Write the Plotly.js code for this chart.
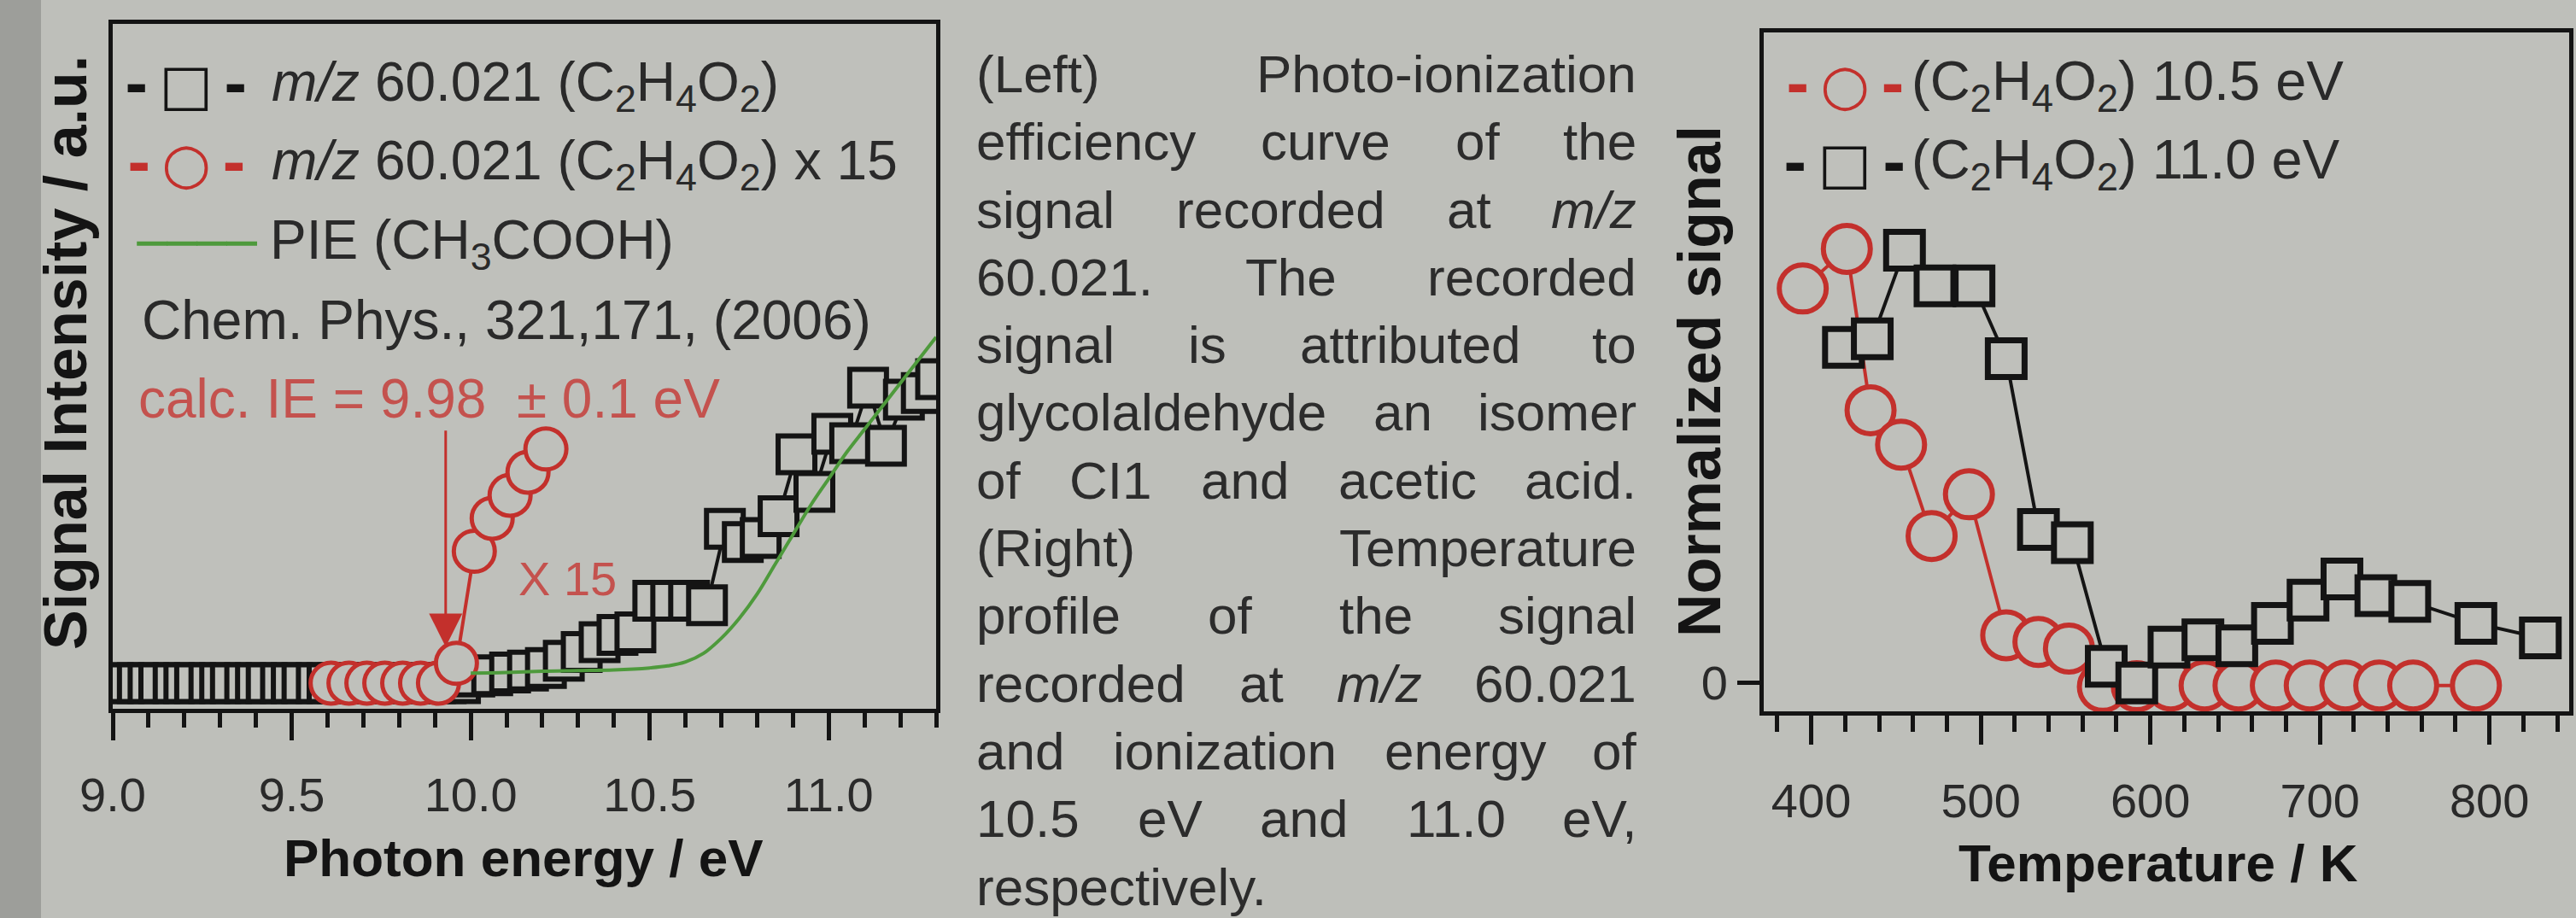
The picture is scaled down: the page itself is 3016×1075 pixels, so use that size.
<!DOCTYPE html>
<html>
<head>
<meta charset="utf-8">
<script src="https://cdn.plot.ly/plotly-3.0.1.min.js"></script>
<style>
html,body{margin:0;padding:0;background:#bebfba;}
#chart{width:3016px;height:1075px;}
</style>
</head>
<body>
<div id="chart"></div>
<script>
// ---------------- Left panel: photo-ionization efficiency of m/z 60.021 ----------------
const squareEnergy = [9.00,9.03,9.07,9.10,9.13,9.17,9.20,9.23,9.27,9.30,
  9.33,9.37,9.40,9.43,9.47,9.50,9.53,9.57,9.60,9.63,
  9.67,9.70,9.73,9.77,9.80,9.83,9.87,9.90,9.93,9.97,
  10.01,10.06,10.11,10.16,10.21,10.26,10.31,10.36,10.41,10.46,
  10.51,10.56,10.61,10.66,10.71,10.76,10.81,10.86,10.91,10.96,
  11.01,11.06,11.11,11.16,11.21,11.26,11.30];
const squareSignal = [0,0,0,0,0,0,0,0,0,0,
  0,0,0,0,0,0,0,0,0,0,
  0,0,0,0,0,0,0,0,0,0,
  0.010,0.012,0.016,0.019,0.023,0.034,0.047,0.062,0.073,0.077,
  0.125,0.125,0.125,0.118,0.234,0.214,0.220,0.253,0.347,0.290,
  0.378,0.364,0.448,0.360,0.430,0.440,0.461];
const circleEnergy = [9.61,9.66,9.71,9.76,9.81,9.86,9.91,9.96,10.01,10.06,10.11,10.16,10.21];
const circleSignal = [0,0,0,0,0,0,0,0.030,0.200,0.250,0.285,0.320,0.355];
const acidEnergy = [10.00,10.10,10.20,10.30,10.40,10.50,10.55,10.60,10.65,10.70,10.75,10.80,10.85,10.90,10.95,11.00,11.05,11.10,11.15,11.20,11.25,11.30];
const acidSignal = [0.015,0.016,0.018,0.019,0.020,0.023,0.026,0.032,0.045,0.068,0.098,0.135,0.180,0.225,0.270,0.310,0.350,0.385,0.420,0.455,0.490,0.525];
const energyTickVals = [9.0,9.5,10.0,10.5,11.0];
const energyTickText = ['9.0','9.5','10.0','10.5','11.0'];
const arrowEnergy = 9.93;

// ---------------- Right panel: temperature profile ----------------
const temp105 = [395,421,435,453,471,493,515,534,552,572,592,612,632,652,674,694,715,735,755,792];
const signal105 = [0.596,0.656,0.412,0.360,0.222,0.285,0.072,0.062,0.052,-0.006,-0.005,-0.004,-0.004,-0.004,-0.004,-0.004,-0.004,-0.004,-0.004,-0.004];
const temp110 = [419,436,455,473,496,515,534,554,574,592,611,631,651,672,693,713,733,753,792,830];
const signal110 = [0.507,0.520,0.654,0.600,0.600,0.490,0.232,0.212,0.025,0.000,0.054,0.065,0.056,0.090,0.125,0.157,0.132,0.123,0.090,0.068];
const tempTickVals = [400,500,600,700,800];
const tempTickText = ['400','500','600','700','800'];
const signalTickVals = [0];
const signalTickText = ['0'];

// ---------------- Caption text ----------------
const captionLines = [
  ['(Left)','Photo-ionization'],
  ['efficiency','curve','of','the'],
  ['signal','recorded','at','<i>m/z</i>'],
  ['60.021.','The','recorded'],
  ['signal','is','attributed','to'],
  ['glycolaldehyde','an','isomer'],
  ['of','CI1','and','acetic','acid.'],
  ['(Right)','Temperature'],
  ['profile','of','the','signal'],
  ['recorded','at','<i>m/z</i>','60.021'],
  ['and','ionization','energy','of'],
  ['10.5','eV','and','11.0','eV,'],
  ['respectively.']
];

// ---------------- Styling ----------------
const W = 3016, H = 1075;
const BG = '#bfc0bb';
const INK = '#141414';
const RED = '#c3302c';
const RED_TEXT = '#c4524e';
const GREEN = '#4e9a3c';
const SANS = '"Liberation Sans", Arial, sans-serif';
const NARROW = '"Liberation Sans Narrow", "Liberation Sans", Arial, sans-serif';
const SYM = '"DejaVu Sans", sans-serif';
const px = v => v / W;
const py = v => 1 - v / H;

const traces = [
  {x: squareEnergy, y: squareSignal, xaxis:'x', yaxis:'y', type:'scatter', mode:'lines+markers',
   name:'m/z 60.021 (C2H4O2)', line:{color:INK, width:4},
   marker:{symbol:'square', size:43, color:BG, line:{color:INK, width:6}}},
  {x: circleEnergy, y: circleSignal, xaxis:'x', yaxis:'y', type:'scatter', mode:'lines+markers',
   name:'m/z 60.021 (C2H4O2) x 15', line:{color:RED, width:4},
   marker:{symbol:'circle', size:48, color:BG, line:{color:RED, width:5}}},
  {x: acidEnergy, y: acidSignal, xaxis:'x', yaxis:'y', type:'scatter', mode:'lines',
   name:'PIE (CH3COOH)', line:{color:GREEN, width:4, shape:'spline'}},
  {x: temp105, y: signal105, xaxis:'x2', yaxis:'y2', type:'scatter', mode:'lines+markers',
   name:'(C2H4O2) 10.5 eV', line:{color:RED, width:4},
   marker:{symbol:'circle', size:55, color:BG, line:{color:RED, width:6}}},
  {x: temp110, y: signal110, xaxis:'x2', yaxis:'y2', type:'scatter', mode:'lines+markers',
   name:'(C2H4O2) 11.0 eV', line:{color:INK, width:4},
   marker:{symbol:'square', size:43, color:BG, line:{color:INK, width:7}}}
];

const annotations = [];
const shapes = [
  {type:'rect', xref:'paper', yref:'paper', x0:0, x1:px(48), y0:0, y1:1, fillcolor:'#9d9e9a', line:{width:0}, layer:'below'}
];

function addText(text, xPx, yPx, opts) {
  annotations.push(Object.assign({xref:'paper', yref:'paper', x:px(xPx), y:py(yPx), text:text,
    showarrow:false, xanchor:'left', yanchor:'middle', borderpad:0,
    font:{family:SANS, size:64, color:'#2a2a2a'}}, opts || {}));
}
const glyphFont = c => ({family:SYM, size:66, weight:'bold', color:c});

// Left legend
const F = 'C<sub>2</sub>H<sub>4</sub>O<sub>2</sub>';
addText('-\u2009\u25A1\u2009-', 218, 100, {xanchor:'center', font:glyphFont(INK)});
addText('<i>m/z</i> 60.021 (' + F + ')', 317, 100);
addText('-\u2009\u25CB\u2009-', 218, 192, {xanchor:'center', font:glyphFont(RED)});
addText('<i>m/z</i> 60.021 (' + F + ') x 15', 317, 192);
addText('\u2500\u2500\u2500\u2500', 231, 285, {xanchor:'center', font:{family:SYM, size:58, color:GREEN}});
addText('PIE (CH<sub>3</sub>COOH)', 315, 285);
addText('Chem. Phys., 321,171, (2006)', 165, 375);
addText('calc. IE = 9.98 \u00a0\u00b1 0.1 eV', 161, 467, {font:{family:SANS, size:64, color:RED_TEXT}});

// Right legend
addText('-\u2009\u25CB\u2009-', 2160, 100, {xanchor:'center', font:glyphFont(RED)});
addText('(' + F + ') 10.5 eV', 2237, 100, {font:{family:SANS, size:65, color:'#2a2a2a'}});
addText('-\u2009\u25A1\u2009-', 2160, 192, {xanchor:'center', font:glyphFont(INK)});
addText('(' + F + ') 11.0 eV', 2237, 192, {font:{family:SANS, size:65, color:'#2a2a2a'}});

// Axis titles (placed as in the original figure)
const xTitleFont = {family:SANS, size:62, weight:'bold', color:INK};
const yTitleFont = {family:SANS, size:70, weight:'bold', color:INK};
addText('Photon energy / eV', 613, 1004, {xanchor:'center', font:xTitleFont});
addText('Temperature / K', 2527, 1010, {xanchor:'center', font:xTitleFont});
addText('Signal Intensity / a.u.', 77, 413, {xanchor:'center', textangle:-90, font:yTitleFont});
addText('Normalized signal', 1990, 447, {xanchor:'center', textangle:-90, font:yTitleFont});

// Arrow and scale note on left panel
annotations.push({xref:'x', yref:'y', axref:'x', ayref:'y', x:arrowEnergy, y:0.055, ax:arrowEnergy, ay:0.385,
  text:'', showarrow:true, arrowhead:2, arrowsize:2.6, arrowwidth:3, arrowcolor:RED});
annotations.push({xref:'x', yref:'y', x:10.27, y:0.158, text:'X 15', showarrow:false,
  xanchor:'center', yanchor:'middle', font:{family:SANS, size:56, color:RED_TEXT}});

// Caption: justified block of words
(function(){
  const size = 62, left = 1142, right = 1917, y0 = 86.5, dy = 79.3;
  const ctx = document.createElement('canvas').getContext('2d');
  const measure = w => {
    const italic = w.indexOf('<i>') >= 0;
    ctx.font = (italic ? 'italic ' : '') + size + 'px "Liberation Sans"';
    return ctx.measureText(w.replace(/<[^>]+>/g,'')).width;
  };
  captionLines.forEach((words, i) => {
    const y = y0 + i * dy;
    const widths = words.map(measure);
    const last = i === captionLines.length - 1;
    let gap = size * 0.28;
    if (!last && words.length > 1) {
      gap = (right - left - widths.reduce((a,b)=>a+b,0)) / (words.length - 1);
    }
    let x = left;
    words.forEach((w, k) => {
      const isLastWord = !last && k === words.length - 1 && words.length > 1;
      annotations.push({xref:'paper', yref:'paper', x: px(isLastWord ? right : x), y: py(y), text:w,
        showarrow:false, xanchor: isLastWord ? 'right' : 'left', yanchor:'middle', borderpad:0,
        font:{family:SANS, size:size, color:'#2c2c2c'}});
      x += widths[k] + gap;
    });
  });
})();

const axisLine = {showline:true, linewidth:5, linecolor:INK, mirror:true, showgrid:false, zeroline:false, automargin:false};

const layout = {
  width: W, height: H,
  margin: {l:0, r:0, t:0, b:0, pad:0},
  paper_bgcolor: '#bebfba',
  plot_bgcolor: BG,
  showlegend: false,
  xaxis: Object.assign({}, axisLine, {
    domain:[px(132), px(1096)], anchor:'y', range:[9.0, 11.3],
    tickmode:'array', tickvals:energyTickVals, ticktext:energyTickText,
    ticks:'outside', ticklen:32, tickwidth:5, tickcolor:INK,
    minor:{tickmode:'linear', tick0:9.0, dtick:0.1, ticks:'outside', ticklen:17, tickwidth:5, tickcolor:INK, showgrid:false},
    tickfont:{family:NARROW, size:56, color:'#2a2a2a'}, ticklabelstandoff:16
  }),
  yaxis: Object.assign({}, axisLine, {
    domain:[1 - 830/H, 1 - 28/H], anchor:'x', range:[-0.039, 1.0],
    showticklabels:false, ticks:''
  }),
  xaxis2: Object.assign({}, axisLine, {
    domain:[px(2065), px(3008)], anchor:'y2', range:[372, 847],
    tickmode:'array', tickvals:tempTickVals, ticktext:tempTickText,
    ticks:'outside', ticklen:34, tickwidth:5, tickcolor:INK,
    minor:{tickmode:'linear', tick0:400, dtick:20, ticks:'outside', ticklen:19, tickwidth:5, tickcolor:INK, showgrid:false},
    tickfont:{family:NARROW, size:56, color:'#2a2a2a'}, ticklabelstandoff:18
  }),
  yaxis2: Object.assign({}, axisLine, {
    domain:[1 - 833/H, 1 - 38/H], anchor:'x2', range:[-0.043, 0.983],
    tickmode:'array', tickvals:signalTickVals, ticktext:signalTickText,
    ticks:'outside', ticklen:26, tickwidth:5, tickcolor:INK,
    tickfont:{family:NARROW, size:56, color:'#2a2a2a'}
  }),
  annotations: annotations,
  shapes: shapes
};

Plotly.newPlot('chart', traces, layout, {staticPlot:true, displayModeBar:false});
</script>
</body>
</html>
